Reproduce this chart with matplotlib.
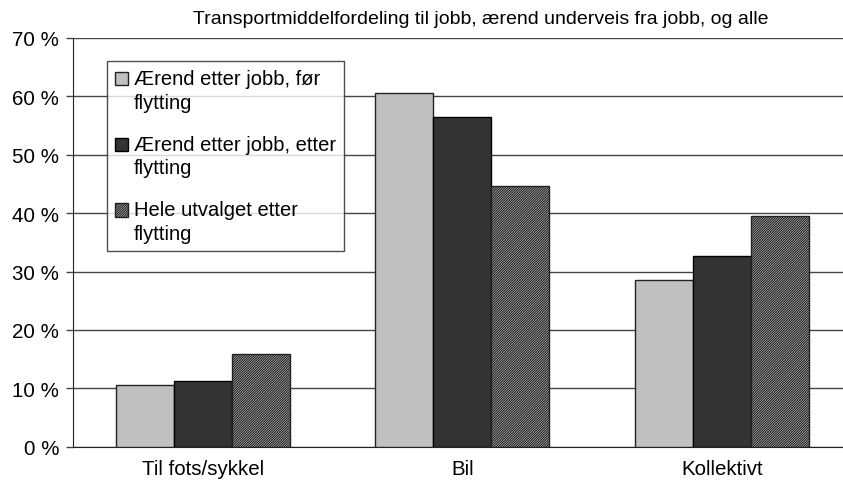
import numpy as np
import matplotlib
matplotlib.use("Agg")
from matplotlib import pyplot as plt
from matplotlib.patches import Rectangle
from matplotlib.container import BarContainer
from matplotlib.legend_handler import HandlerPatch, update_from_first_child

categories = ["Til fots/sykkel", "Bil", "Kollektivt"]
series_labels = ["Ærend etter jobb, før\nflytting",
                 "Ærend etter jobb, etter\nflytting",
                 "Hele utvalget etter\nflytting"]
foer = [10.6, 60.5, 28.5]
etter = [11.2, 56.4, 32.7]
alle = [15.9, 44.6, 39.5]
yticks = [0, 10, 20, 30, 40, 50, 60, 70]

plt.rcParams['font.family'] = ['Liberation Sans', 'DejaVu Sans']
plt.rcParams['hatch.linewidth'] = 0.9

fig = plt.figure(figsize=(8.43, 4.89), dpi=100)
ax = fig.add_axes([73 / 843, 1 - 447.7 / 489, 770 / 843, 408.8 / 489])

x = np.arange(len(categories))
w = 0.2235
ax.bar(x - w, foer, w, color='#c0c0c0', edgecolor='#222222', linewidth=1, label=series_labels[0], zorder=3)
ax.bar(x, etter, w, color='#333333', edgecolor='#000000', linewidth=1, label=series_labels[1], zorder=3)
ax.bar(x + w, alle, w, color='white', edgecolor='#222222', hatch='/' * 14, linewidth=1, label=series_labels[2], zorder=3)

ax.set_xlim(-0.5, 2.467)
ax.set_ylim(0, 70)
ax.set_yticks(yticks)
ax.set_yticklabels([f"{v} %" for v in yticks], fontsize=14.8)
ax.set_xticks(x)
ax.set_xticklabels(categories, fontsize=14.8)
ax.tick_params(axis='x', length=0, pad=9)
ax.tick_params(axis='y', length=5, width=1, color='#444444', pad=5)
ax.yaxis.grid(True, color='#444444', linewidth=1)
ax.set_axisbelow(True)
for s in ['top', 'right']:
    ax.spines[s].set_visible(False)
ax.spines['left'].set_color('#222222')
ax.spines['bottom'].set_color('#222222')

fig.text(481 / 843, 1 - 19 / 489, "Transportmiddelfordeling til jobb, ærend underveis fra jobb, og alle",
         ha='center', va='center', fontsize=14)


# put the legend square next to the first text line
def top_square(legend, orig_handle, xdescent, ydescent, width, height, fontsize):
    return Rectangle((-xdescent, -ydescent + 0.6 * fontsize), width, height)


leg = ax.legend(loc='upper left', bbox_to_anchor=((107 - 73) / 770, (447.7 - 62) / 408.8),
                fontsize=14.5, frameon=True, fancybox=False, edgecolor='#222222',
                handlelength=0.65, handleheight=0.65, handletextpad=0.3,
                labelspacing=1.15, borderpad=0.4, borderaxespad=0,
                handler_map={BarContainer: HandlerPatch(patch_func=top_square,
                                                        update_func=update_from_first_child)})
leg.get_frame().set_linewidth(1)
for t in leg.get_texts():
    t.set_linespacing(1.3)

fig.savefig("out.png", dpi=100)
